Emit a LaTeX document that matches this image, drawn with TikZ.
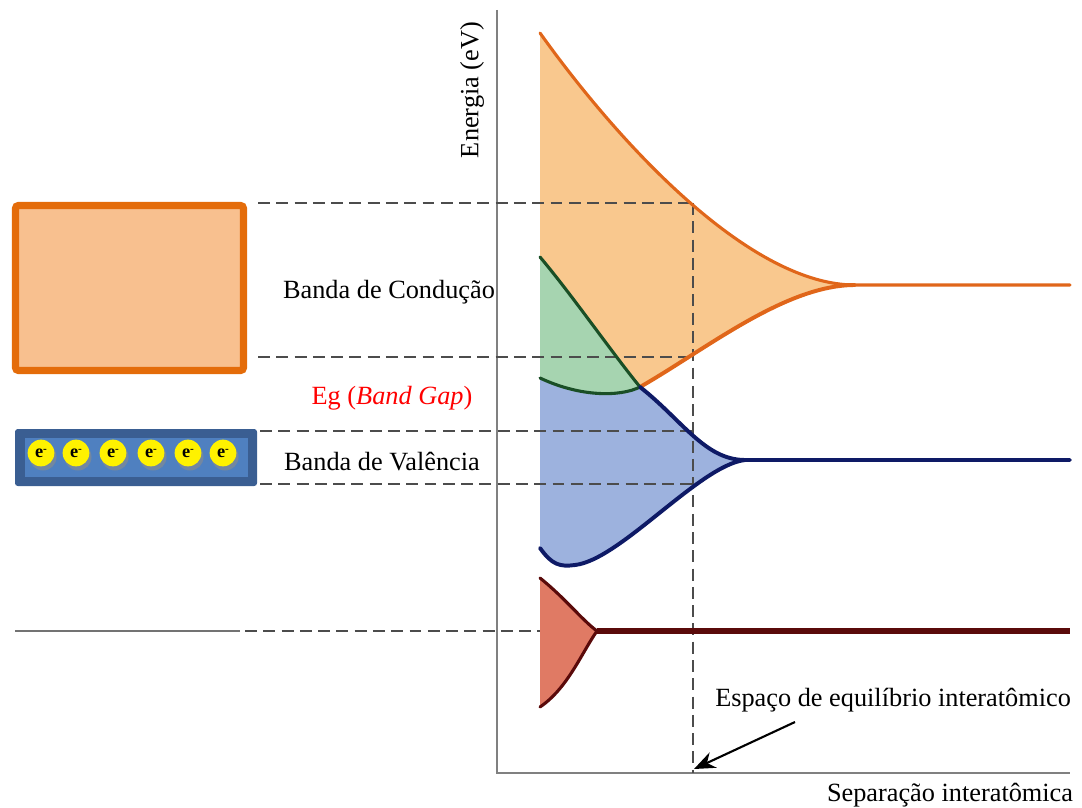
\documentclass[tikz,border=0pt]{standalone}
\usepackage{fontspec}
\setmainfont{Liberation Serif}
\usetikzlibrary{arrows.meta, positioning, calc}
\definecolor{condline}{HTML}{E0661A}
\definecolor{condfill}{HTML}{F9C88E}
\definecolor{boxline}{HTML}{E46C0A}
\definecolor{boxfill}{HTML}{F8C08F}
\definecolor{greenline}{HTML}{1A4F26}
\definecolor{greenfill}{HTML}{A6D4B0}
\definecolor{valline}{HTML}{0E1A66}
\definecolor{valfill}{HTML}{9DB2DE}
\definecolor{coreline}{HTML}{5A0A0A}
\definecolor{corefill}{HTML}{E07A64}
\definecolor{vboxout}{HTML}{3A5E92}
\definecolor{vboxin}{HTML}{4F80C0}
\tikzset{
  lbl/.style={font=\fontsize{18.7}{22}\selectfont, inner sep=0pt},
  axis/.style={draw=black!50, line width=1.4pt},
  dashline/.style={draw=black!70, line width=1.4pt, dash pattern=on 8.5pt off 4.5pt},
  bandline/.style={line width=2.2pt, line cap=round},
  arr/.style={-{Stealth[length=15pt, width=12pt]}, line width=1.5pt, draw=black},
  electron/.style={circle, fill=yellow, minimum size=19pt, inner sep=0pt,
    font=\fontsize{13}{14}\selectfont\bfseries},
}
\begin{document}
\begin{tikzpicture}[x=0.025cm, y=-0.025cm]
  \useasboundingbox (0,0) rectangle (1082,807);

  % axes
  \coordinate (origin) at (497,773);
  \coordinate (ytop) at (497,10);
  \coordinate (xend) at (1070,773);
  \draw[axis] (ytop) -- (origin) -- (xend);
  \node[lbl, rotate=90] (energia) at (472,90) {Energia (eV)};
  \node[lbl] (sep) at (950,795) {Separação interatômica};

  % key points of the bands
  \coordinate (ctop) at (540,33);
  \coordinate (ccusp) at (855,285);
  \coordinate (cx) at (640,387);
  \coordinate (gtop) at (540,257);
  \coordinate (gbot) at (540,378);
  \coordinate (vcusp) at (745,460);
  \coordinate (vlow) at (575,565);
  \coordinate (vbot) at (540,548);
  \coordinate (rtop) at (540,578);
  \coordinate (rcusp) at (597,631);
  \coordinate (rbot) at (540,707);

  % fills
  \fill[condfill] (ctop) .. controls (620,145) and (750,285) .. (ccusp)
    .. controls (785,285) and (705,350) .. (cx)
    .. controls (610,350) and (572,295) .. (gtop) -- cycle;
  \fill[greenfill] (gtop) .. controls (572,295) and (610,350) .. (cx)
    .. controls (620,397) and (580,397) .. (gbot) -- cycle;
  \fill[valfill] (gbot) .. controls (580,397) and (620,397) .. (cx)
    .. controls (682,420) and (705,460) .. (vcusp)
    .. controls (700,465) and (620,560) .. (vlow)
    .. controls (560,567) and (552,565) .. (vbot) -- cycle;
  \fill[corefill] (rtop) .. controls (565,598) and (582,620) .. (rcusp)
    .. controls (582,652) and (568,688) .. (rbot) -- cycle;

  % dashed guides
  \coordinate (eqtop) at (693,203);
  \coordinate (eqbase) at (693,773);
  \draw[dashline] (258,203) -- (eqtop);
  \draw[dashline] (258,357) -- (693,357);
  \draw[dashline] (260,431) -- (693,431);
  \draw[dashline] (260,484) -- (693,484);
  \draw[dashline] (eqtop) -- (eqbase);
  \draw[draw=black!55, line width=1.4pt] (15,631) -- (240,631);
  \draw[dashline] (245,631) -- (540,631);

  % band edges
  \draw[bandline, condline] (ctop) .. controls (620,145) and (750,285) .. (ccusp) -- (1070,285);
  \draw[bandline, condline, line width=2.8pt] (cx) .. controls (705,350) and (785,285) .. (ccusp);
  \draw[bandline, greenline] (gtop) .. controls (572,295) and (610,350) .. (cx);
  \draw[bandline, greenline] (gbot) .. controls (580,397) and (620,397) .. (cx);
  \draw[bandline, valline, line width=2.8pt] (cx) .. controls (682,420) and (705,460) .. (vcusp) -- (1070,460);
  \draw[bandline, valline, line width=2.8pt] (vbot) .. controls (552,565) and (560,567) .. (vlow)
    .. controls (620,560) and (700,465) .. (vcusp);
  \draw[bandline, coreline] (rtop) .. controls (565,598) and (582,620) .. (rcusp);
  \draw[bandline, coreline] (rbot) .. controls (568,688) and (582,652) .. (rcusp);
  \draw[coreline, line width=4.6pt] (rcusp) -- (1070,631);

  % band boxes
  \draw[boxline, fill=boxfill, line width=5pt, rounded corners=2pt] (15.5,205.5) rectangle (243.5,370.5);
  \fill[vboxout, rounded corners=2pt] (15,429) rectangle (257,486);
  \fill[vboxin] (25,438) rectangle (248,477);
  \foreach \ex [count=\i] in {41,76,113,151,188,223} {
    \fill[black!45, opacity=0.6] (\ex+2,457) circle (13.5);
    \node[electron] (e\i) at (\ex,453) {e\raisebox{0.6ex}{\fontsize{8}{8}\selectfont -}};
  }

  % labels
  \node[lbl] (cond) at (389,292) {Banda de Condução};
  \node[lbl, text=red] (gap) at (392,398) {Eg (\textit{Band Gap})};
  \node[lbl] (val) at (382,462) {Banda de Valência};
  \node[lbl, anchor=west] (eq) at (715,700) {Espaço de equilíbrio interatômico};
  \coordinate (eqfoot) at (795,722);
  \draw[arr] (eqfoot) -- ($(eqbase)+(1,-4)$);
\end{tikzpicture}
\end{document}
